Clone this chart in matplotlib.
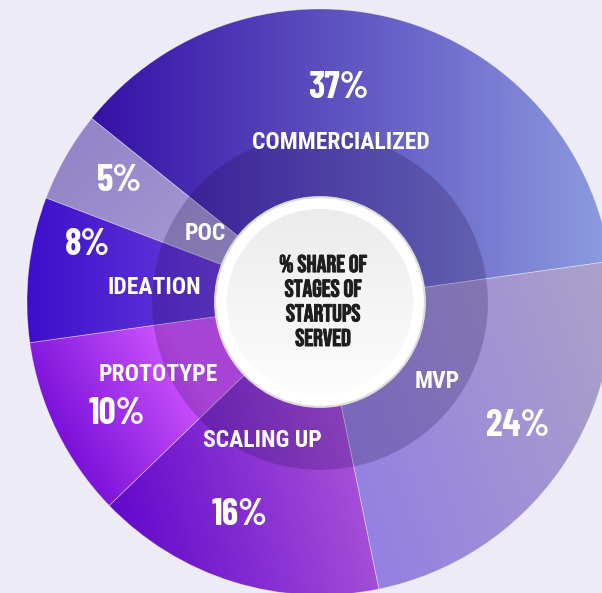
import numpy as np
import matplotlib.pyplot as plt
import matplotlib.patheffects as pe
from matplotlib import font_manager as fm
from matplotlib.colors import LinearSegmentedColormap
from matplotlib.patches import Circle

stages = ['COMMERCIALIZED', 'POC', 'IDEATION', 'PROTOTYPE', 'SCALING UP', 'MVP']
shares = [37, 5, 8, 10, 16, 24]
center_text = '% SHARE OF\nSTAGES OF\nSTARTUPS\nSERVED'

# gradient per wedge: colours, direction (deg)
grads = [(['#3510a6', '#8c9cdf'], 0),
         (['#9484c8', '#aea6da'], -45),
         (['#3d0fcc', '#7d55e0'], 0),
         (['#7a12d8', '#cf55ff', '#d255ff'], 30),
         (['#6208cc', '#a852d8'], 15),
         (['#9380e2', '#aca2c8'], 20)]

# label spots in pie units (centre 0,0 radius 1)
name_xy = [(0.072, 0.543), (-0.392, 0.235), (-0.567, 0.051),
           (-0.553, -0.246), (-0.195, -0.474), (0.399, -0.270)]
pct_xy = [(0.061, 0.730), (-0.683, 0.413), (-0.792, 0.195),
          (-0.693, -0.382), (-0.273, -0.727), (0.676, -0.423)]

bg = '#edebf5'

have = {f.name for f in fm.fontManager.ttflist}
def pick(cands):
    return next((n for n in cands if n in have), 'DejaVu Sans')
f_name = pick(['Roboto Condensed', 'Liberation Sans Narrow'])
f_pct = pick(['Barlow Condensed', 'Roboto Condensed'])
f_mid = pick(['Bebas Neue', 'Oswald', 'Roboto Condensed'])

fig = plt.figure(figsize=(6.02, 5.93), dpi=100, facecolor=bg)
ax = fig.add_axes([0, 0, 1, 1])
ax.set_facecolor(bg)

wedges, _ = ax.pie(shares, startangle=8, counterclock=True, radius=1,
                   wedgeprops=dict(fc='none', ec=(1, 1, 1, 0.3), lw=0.6, zorder=2))

xs = np.linspace(-1, 1, 500)
X, Y = np.meshgrid(xs, xs)
for w, (cols, ang) in zip(wedges, grads):
    th = np.radians(np.linspace(w.theta1, w.theta2, 60))
    px = np.r_[0, np.cos(th)] * w.r
    py = np.r_[0, np.sin(th)] * w.r
    a = np.radians(ang)
    proj = px * np.cos(a) + py * np.sin(a)
    T = np.clip((X * np.cos(a) + Y * np.sin(a) - proj.min()) / (proj.max() - proj.min()), 0, 1)
    cm = LinearSegmentedColormap.from_list('g', cols)
    im = ax.imshow(T, cmap=cm, vmin=0, vmax=1, extent=(-1, 1, -1, 1),
                   origin='lower', zorder=1, interpolation='bilinear')
    im.set_clip_path(w)

# darker inner ring
ax.add_patch(Circle((0, 0), 0.573, fc='#1a0840', ec='none', alpha=0.22, zorder=3))
# white hub
ax.add_patch(Circle((0, 0), 0.358, fc='white', ec='#dcdcdc', lw=1.5, zorder=4))
hub = Circle((0, 0), 0.318, fc='none', ec='none', zorder=5)
ax.add_patch(hub)
hcm = LinearSegmentedColormap.from_list('h', ['#fdfdfd', '#ececec'])
im = ax.imshow(np.clip((Y + 0.32) / 0.64, 0, 1), cmap=hcm, vmin=0, vmax=1,
               extent=(-1, 1, -1, 1), origin='lower', zorder=5)
im.set_clip_path(hub)

for name, (x, y) in zip(stages, name_xy):
    ax.text(x, y, name, color='white', fontsize=17, fontweight='bold',
            ha='center', va='center', zorder=6, family=[f_name, 'DejaVu Sans'])
for s, (x, y) in zip(shares, pct_xy):
    ax.text(x, y, f'{s}%', color='white', fontsize=27, fontweight='bold',
            ha='center', va='center', zorder=6, family=[f_pct, 'DejaVu Sans'])
ax.text(0.01, 0.005, center_text, color='#1e1e1e', fontsize=17.5,
        ha='center', va='center', linespacing=1.45, zorder=6, family=[f_mid, 'DejaVu Sans'],
        path_effects=[pe.withStroke(linewidth=0.7, foreground='#1e1e1e')])

ax.set_xlim(-320 / 293, 282 / 293)
ax.set_ylim(-291 / 293, 302 / 293)
ax.axis('off')

fig.savefig('out.png', dpi=100, facecolor=bg)
